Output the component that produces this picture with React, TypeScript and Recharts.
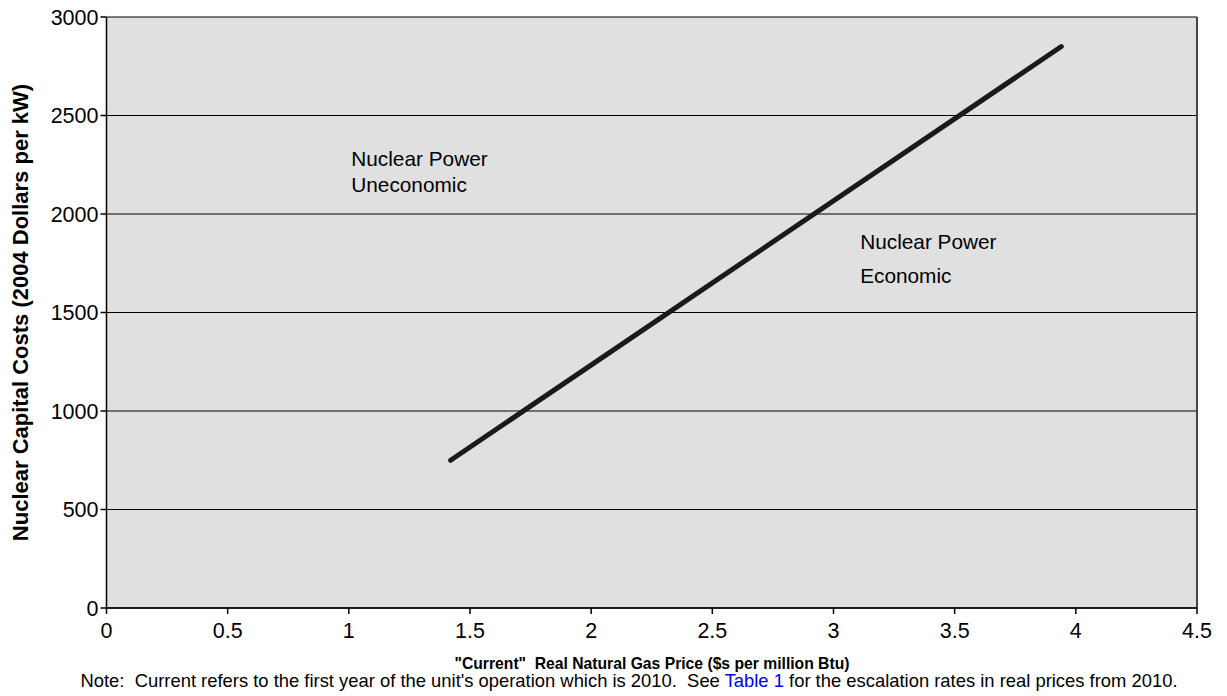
import {
  LineChart, Line, XAxis, YAxis, CartesianGrid, ReferenceLine, ReferenceDot, Label,
} from "recharts";

const gasPrice = [1.42, 3.94];
const capitalCost = [750, 2850];
const xTicks = [0, 0.5, 1, 1.5, 2, 2.5, 3, 3.5, 4, 4.5];
const yTicks = [0, 500, 1000, 1500, 2000, 2500, 3000];

const data = gasPrice.map((x, i) => ({ x, cost: capitalCost[i] }));

const FONT = "'Liberation Sans', Arial, Helvetica, sans-serif";

const twoLine = (first: string, second: string, gap: number) => (props: any) => (
  <text x={props.cx} y={props.cy} fontFamily={FONT} fontSize={20.8} fill="#000">
    <tspan x={props.cx}>{first}</tspan>
    <tspan x={props.cx} dy={gap}>{second}</tspan>
  </text>
);

const App = () => {
  return (
    <div style={{ position: "absolute", left: 0, top: 0, background: "#fff" }}>
      <LineChart
        width={1227}
        height={696}
        data={data}
        margin={{ top: 17, right: 30, left: 0, bottom: 48 }}
      >
        <CartesianGrid vertical={false} stroke="#000" strokeWidth={1.2} fill="#e0e0e0" />
        <XAxis
          dataKey="x"
          type="number"
          domain={[0, 4.5]}
          ticks={xTicks}
          interval={0}
          height={40}
          stroke="#000"
          strokeWidth={1.5}
          tickSize={6}
          tickMargin={9}
          tick={{ fontSize: 21.5, fill: "#000", fontFamily: FONT }}
        />
        <YAxis
          type="number"
          domain={[0, 3000]}
          ticks={yTicks}
          interval={0}
          width={106.5}
          stroke="#000"
          strokeWidth={1.5}
          tickSize={6}
          tickMargin={2}
          tick={{ fontSize: 21.5, fill: "#000", fontFamily: FONT }}
        >
          <Label
            value="Nuclear Capital Costs (2004 Dollars per kW)"
            angle={-90}
            position="insideLeft"
            offset={20}
            style={{ fontSize: 22, fontWeight: "bold", fill: "#000", fontFamily: FONT, textAnchor: "middle" }}
          />
        </YAxis>
        <ReferenceLine x={4.5} stroke="#444" strokeWidth={2} />
        <ReferenceDot x={1.01} y={2245} r={0} shape={twoLine("Nuclear Power", "Uneconomic", 26)} />
        <ReferenceDot x={3.11} y={1822} r={0} shape={twoLine("Nuclear Power", "Economic", 34)} />
        <Line
          type="linear"
          dataKey="cost"
          stroke="#1a1a1a"
          strokeWidth={5}
          strokeLinecap="round"
          dot={false}
          isAnimationActive={false}
        />
      </LineChart>
      <svg
        width={1227}
        height={40}
        style={{ position: "absolute", left: 0, top: 656 }}
      >
        <text x={652} y={13} textAnchor="middle" fontFamily={FONT} fontSize={15.7} fontWeight="bold" fill="#000" style={{ whiteSpace: "pre" }}>
          {"\"Current\"  Real Natural Gas Price ($s per million Btu)"}
        </text>
        <text x={629} y={31} textAnchor="middle" fontFamily={FONT} fontSize={18.4} fill="#000" style={{ whiteSpace: "pre" }}>
          {"Note:  Current refers to the first year of the unit's operation which is 2010.  See "}
          <tspan fill="#0000ee">Table 1</tspan>
          {" for the escalation rates in real prices from 2010."}
        </text>
      </svg>
    </div>
  );
};

export default App;
